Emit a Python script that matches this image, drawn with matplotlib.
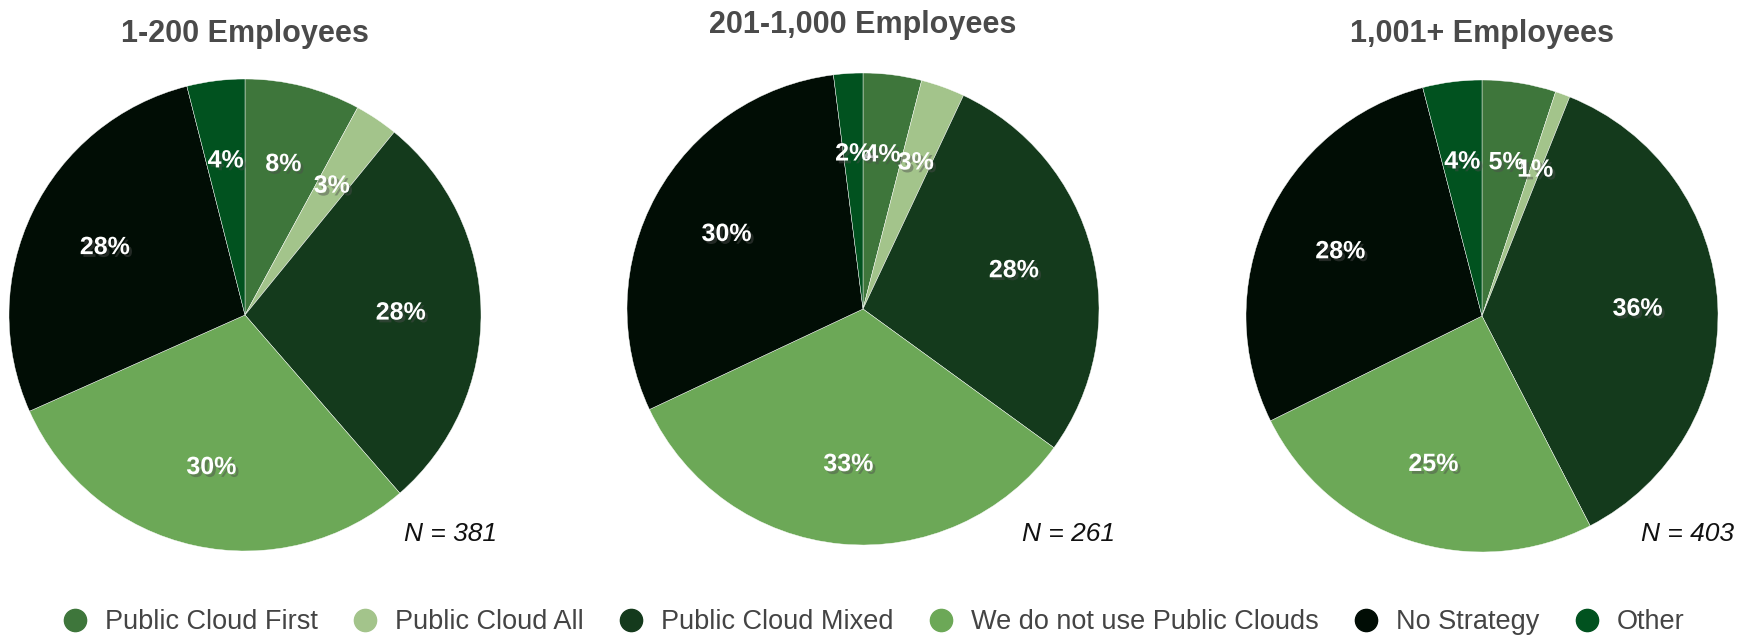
import matplotlib.pyplot as plt
import matplotlib.patheffects as pe
from matplotlib.lines import Line2D
import numpy as np

plt.rcParams['font.family'] = ['Liberation Sans', 'DejaVu Sans']

categories = ['Public Cloud First', 'Public Cloud All', 'Public Cloud Mixed',
              'We do not use Public Clouds', 'No Strategy', 'Other']
colors = ['#3e763b', '#a3c48b', '#143a1c', '#6ca857', '#010d05', '#01521f']

titles = ['1-200 Employees', '201-1,000 Employees', '1,001+ Employees']
small = [8, 3, 28, 30, 28, 4]
medium = [4, 3, 28, 33, 30, 2]
large = [5, 1, 36, 25, 28, 4]
counts = [381, 261, 403]

W, H = 1760, 638
fig = plt.figure(figsize=(W / 100, H / 100), dpi=100)

# pie centre (px from left, px from top) and radius in px
centres = [(245, 315), (863, 309), (1482, 316)]
R = 236
title_y = [34, 25, 34]

shadow = [pe.SimplePatchShadow(offset=(2, -2), alpha=0.45), pe.Normal()]

for vals, title, n, (cx, cy), ty in zip([small, medium, large], titles, counts, centres, title_y):
    ax = fig.add_axes([(cx - R) / W, (H - cy - R) / H, 2 * R / W, 2 * R / H])
    wedges, _ = ax.pie(vals, colors=colors, startangle=90, counterclock=False,
                       wedgeprops=dict(edgecolor='white', linewidth=0.3))
    ax.set_xlim(-1, 1)
    ax.set_ylim(-1, 1)
    ax.set_aspect('equal')
    for w, v in zip(wedges, vals):
        ang = np.deg2rad((w.theta1 + w.theta2) / 2)
        ax.text(0.66 * np.cos(ang), 0.66 * np.sin(ang), f'{v}%', color='white',
                fontsize=18, fontweight='bold', ha='center', va='center',
                path_effects=shadow)
    fig.text(cx / W, 1 - ty / H, title, ha='center', va='center',
             fontsize=22, fontweight='bold', color='#4a4a4a')
    fig.text((cx + 205) / W, 1 - 534 / H, f'N = {n}', ha='center', va='center',
             fontsize=19, style='italic', color='#111111')

handles = [Line2D([], [], marker='o', linestyle='none', markersize=16,
                  markerfacecolor=c, markeredgecolor=c) for c in colors]
fig.legend(handles, categories, loc='center', bbox_to_anchor=(0.496, 1 - 622 / H),
           ncol=6, frameon=False, fontsize=19.5, labelcolor='#444444',
           handlelength=1.0, handletextpad=0.6, columnspacing=1.25)

fig.savefig('out.png', dpi=100)
